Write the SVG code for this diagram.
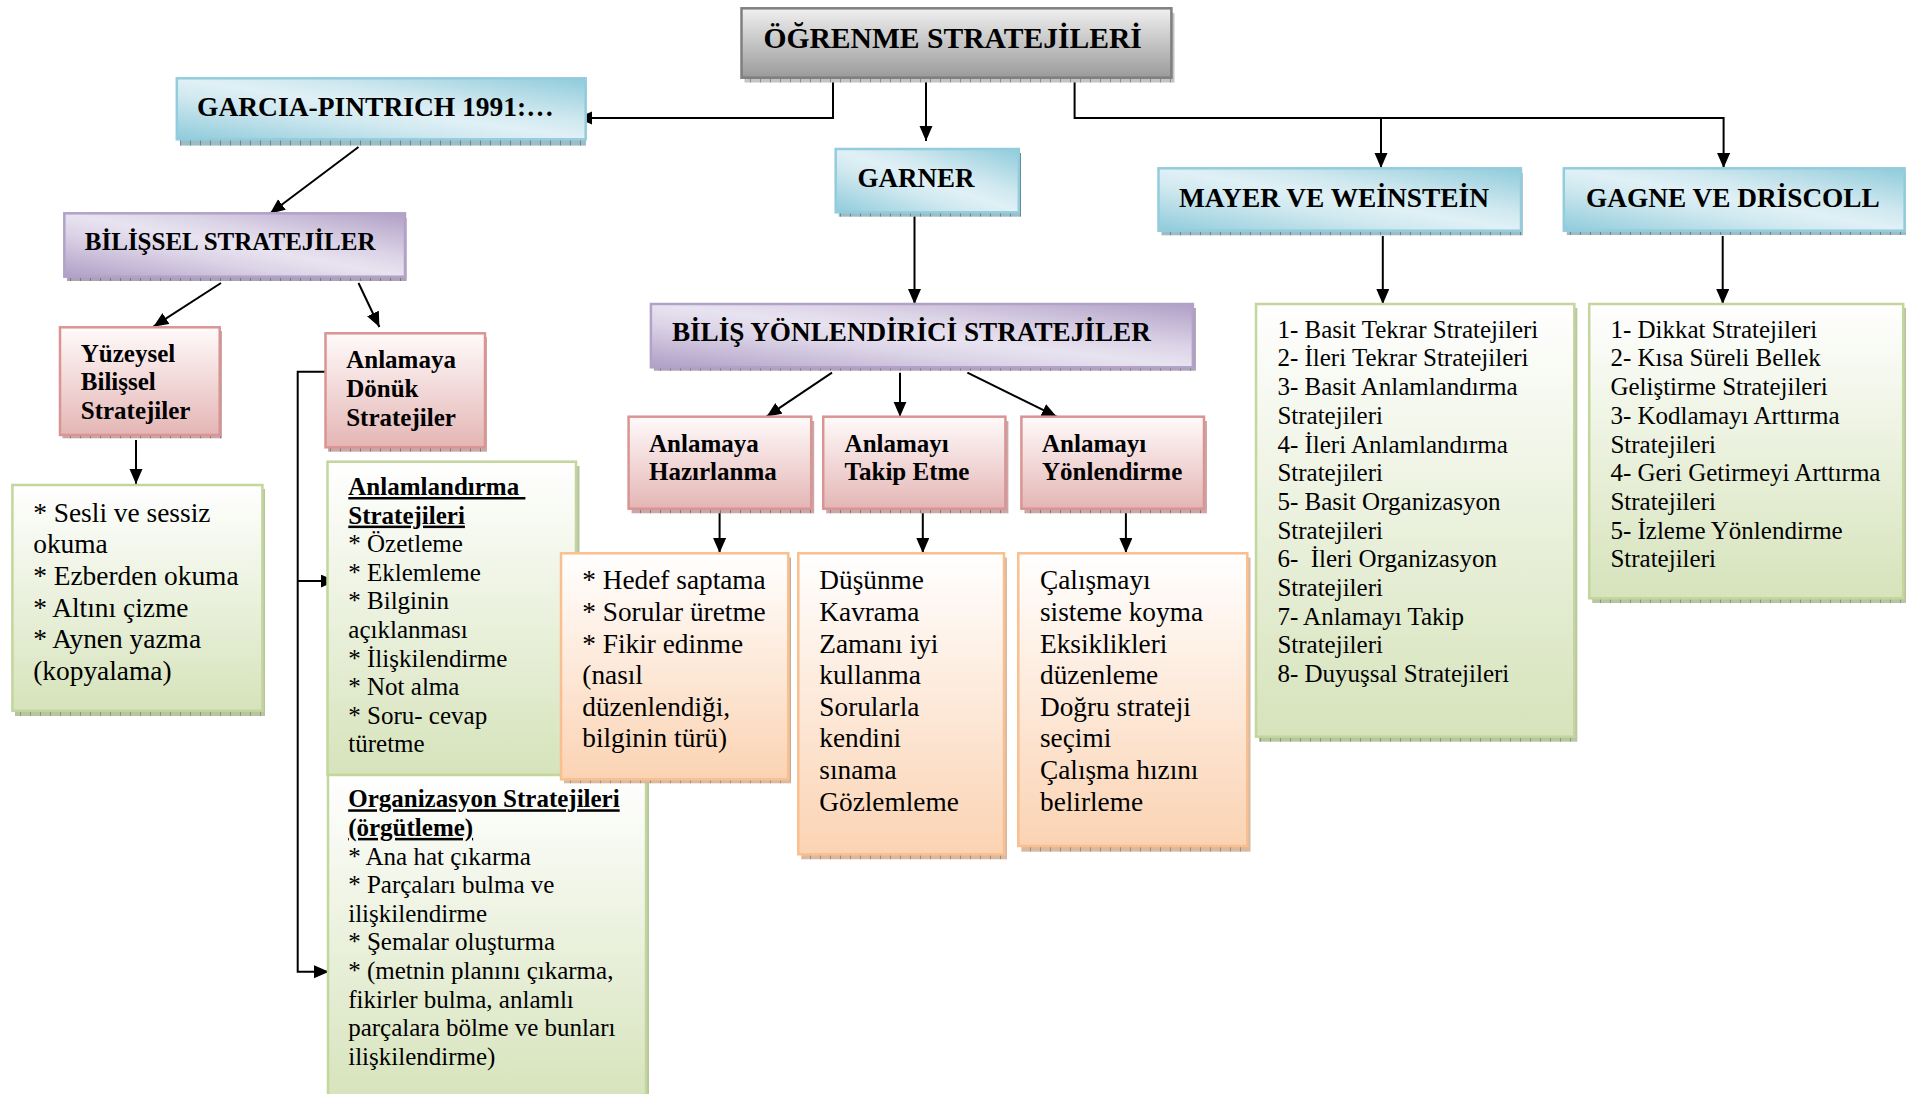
<svg xmlns="http://www.w3.org/2000/svg" width="1906" height="1094" viewBox="0 0 1906 1094">
<defs>
<style>
text{font-family:"Liberation Serif","Times New Roman",serif;fill:#000}
.b{font-weight:bold}
.u{text-decoration:underline}
.s25{font-size:25px}
.s27{font-size:27.3px}
.con{fill:none;stroke:#000;stroke-width:2}
.bd{stroke-width:2.5}
</style>
<linearGradient id="gGrey" x1="0" y1="0" x2="0" y2="1"><stop offset="0" stop-color="#f0f0f0"/><stop offset="1" stop-color="#9a9a9a"/></linearGradient>
<linearGradient id="gBlue" x1="1" y1="0" x2="0" y2="1"><stop offset="0" stop-color="#8fcbdb"/><stop offset="0.35" stop-color="#cfe8ef"/><stop offset="0.5" stop-color="#e0f1f6"/><stop offset="0.65" stop-color="#cfe8ef"/><stop offset="1" stop-color="#8fcbdb"/></linearGradient>
<linearGradient id="gPurple" x1="1" y1="0" x2="0" y2="1"><stop offset="0" stop-color="#b09fc6"/><stop offset="0.35" stop-color="#dcd4e7"/><stop offset="0.5" stop-color="#e8e3f0"/><stop offset="0.65" stop-color="#dcd4e7"/><stop offset="1" stop-color="#b09fc6"/></linearGradient>
<linearGradient id="gPink" x1="0" y1="0" x2="0" y2="1"><stop offset="0" stop-color="#fffafa"/><stop offset="1" stop-color="#e4b6b5"/></linearGradient>
<linearGradient id="gGreen" x1="0" y1="0" x2="0" y2="1"><stop offset="0" stop-color="#ffffff"/><stop offset="1" stop-color="#d6e3bb"/></linearGradient>
<linearGradient id="gOrange" x1="0" y1="0" x2="0" y2="1"><stop offset="0" stop-color="#ffffff"/><stop offset="1" stop-color="#fbd3b3"/></linearGradient>
<pattern id="hGrey" width="10" height="6" patternUnits="userSpaceOnUse"><rect width="10" height="6" fill="#c4c4c4"/><path d="M0.5,0V6" stroke="#8a8a8a"/></pattern>
<pattern id="hBlue" width="10" height="6" patternUnits="userSpaceOnUse"><rect width="10" height="6" fill="#9dbcc3"/><path d="M0.5,0V6" stroke="#5f8a94"/></pattern>
<pattern id="hPurple" width="10" height="6" patternUnits="userSpaceOnUse"><rect width="10" height="6" fill="#aca2b8"/><path d="M0.5,0V6" stroke="#7d7289"/></pattern>
<pattern id="hPink" width="10" height="6" patternUnits="userSpaceOnUse"><rect width="10" height="6" fill="#c8a8a8"/><path d="M0.5,0V6" stroke="#987171"/></pattern>
<pattern id="hGreen" width="10" height="6" patternUnits="userSpaceOnUse"><rect width="10" height="6" fill="#b8c4a2"/><path d="M0.5,0V6" stroke="#8a9874"/></pattern>
<pattern id="hOrange" width="10" height="6" patternUnits="userSpaceOnUse"><rect width="10" height="6" fill="#d8baa2"/><path d="M0.5,0V6" stroke="#a88a70"/></pattern>
<marker id="ah" markerUnits="userSpaceOnUse" markerWidth="16" markerHeight="14" refX="15" refY="6.5" orient="auto"><path d="M0,0L15,6.5L0,13z" fill="#000"/></marker>
</defs>
<rect width="1906" height="1094" fill="#fff"/>

<g id="connectors">
<path class="con" d="M833,80V118H577" marker-end="url(#ah)"/>
<path class="con" d="M926,80V141" marker-end="url(#ah)"/>
<path class="con" d="M1074.6,80V118H1723.6V168" marker-end="url(#ah)"/>
<path class="con" d="M1381,118V168" marker-end="url(#ah)"/>
<path class="con" d="M358.5,147L270,213.5" marker-end="url(#ah)"/>
<path class="con" d="M221,283L153.4,326.7" marker-end="url(#ah)"/>
<path class="con" d="M358.5,283L379.4,327" marker-end="url(#ah)"/>
<path class="con" d="M136,440V484" marker-end="url(#ah)"/>
<path class="con" d="M325.5,371.7H297.7V971.7H329" marker-end="url(#ah)"/>
<path class="con" d="M297.7,581H335.8" marker-end="url(#ah)"/>
<path class="con" d="M914.5,216V304" marker-end="url(#ah)"/>
<path class="con" d="M1382.8,236V304" marker-end="url(#ah)"/>
<path class="con" d="M1722.7,236V304" marker-end="url(#ah)"/>
<path class="con" d="M832,372.7L766.5,416.7" marker-end="url(#ah)"/>
<path class="con" d="M900,372.7V416.7" marker-end="url(#ah)"/>
<path class="con" d="M967.4,372.7L1056.7,416.7" marker-end="url(#ah)"/>
<path class="con" d="M719.6,513V553" marker-end="url(#ah)"/>
<path class="con" d="M922.8,513V553" marker-end="url(#ah)"/>
<path class="con" d="M1125.9,513V553" marker-end="url(#ah)"/>
</g>

<g id="n_ogrenme">
<rect x="744.5" y="13" width="430" height="69.5" fill="url(#hGrey)"/>
<rect class="bd" x="741.5" y="8.3" width="429.9" height="69.4" fill="url(#gGrey)" stroke="#7f7f7f"/>
<text class="b" x="763.4" y="47.7" font-size="29.6">ÖĞRENME STRATEJİLERİ</text>
</g>

<g id="n_garcia">
<rect x="180" y="83" width="406" height="62.6" fill="url(#hBlue)"/>
<rect class="bd" x="176.8" y="78.3" width="408.9" height="61" fill="url(#gBlue)" stroke="#93cddd"/>
<text class="b" x="197" y="116" font-size="27.5">GARCIA-PINTRICH 1991:…</text>
</g>

<g id="n_bilissel">
<rect x="67" y="218" width="339.7" height="63" fill="url(#hPurple)"/>
<rect class="bd" x="64.3" y="213.3" width="340.7" height="63.4" fill="url(#gPurple)" stroke="#b3a2c7"/>
<text class="b" x="84.8" y="250" font-size="25">BİLİŞSEL STRATEJİLER</text>
</g>

<g id="n_garner">
<rect x="838.7" y="153" width="182.3" height="63.7" fill="url(#hBlue)"/>
<rect class="bd" x="835.7" y="149" width="183.1" height="63.3" fill="url(#gBlue)" stroke="#93cddd"/>
<text class="b" x="857.6" y="186.7" font-size="27">GARNER</text>
</g>

<g id="n_mayer">
<rect x="1161.5" y="173" width="361.3" height="62.3" fill="url(#hBlue)"/>
<rect class="bd" x="1158.5" y="168.3" width="362.5" height="62.4" fill="url(#gBlue)" stroke="#93cddd"/>
<text class="b" x="1179" y="206.7" font-size="27.4">MAYER VE WEİNSTEİN</text>
</g>

<g id="n_gagne">
<rect x="1566.8" y="173" width="340" height="62" fill="url(#hBlue)"/>
<rect class="bd" x="1563.8" y="168.3" width="340.8" height="62.4" fill="url(#gBlue)" stroke="#93cddd"/>
<text class="b" x="1586" y="206.7" font-size="27.3">GAGNE VE DRİSCOLL</text>
</g>

<g id="n_bilis_yonlendirici">
<rect x="653.9" y="308" width="542" height="62.7" fill="url(#hPurple)"/>
<rect class="bd" x="650.9" y="304" width="542" height="63.3" fill="url(#gPurple)" stroke="#b3a2c7"/>
<text class="b" x="671.9" y="341" font-size="27.2">BİLİŞ YÖNLENDİRİCİ STRATEJİLER</text>
</g>

<g id="n_yuzeysel">
<rect x="62.5" y="331" width="159.5" height="107.3" fill="url(#hPink)"/>
<rect class="bd" x="60" y="327.3" width="159.7" height="107.7" fill="url(#gPink)" stroke="#d99594"/>
<text class="b s25"><tspan x="80.8" y="361.7">Yüzeysel</tspan><tspan x="80.8" y="390">Bilişsel</tspan><tspan x="80.8" y="419">Stratejiler</tspan></text>
</g>

<g id="n_anlamaya_donuk">
<rect x="328" y="337" width="159" height="114.7" fill="url(#hPink)"/>
<rect class="bd" x="325.5" y="333.3" width="159.5" height="114" fill="url(#gPink)" stroke="#d99594"/>
<text class="b s25"><tspan x="346.2" y="368.3">Anlamaya</tspan><tspan x="346.2" y="396.7">Dönük</tspan><tspan x="346.2" y="426">Stratejiler</tspan></text>
</g>

<g id="n_sesli">
<rect x="15" y="489" width="250" height="227" fill="url(#hGreen)"/>
<rect class="bd" x="12.4" y="485" width="250" height="225.7" fill="url(#gGreen)" stroke="#c3d69b"/>
<text font-size="27.4"><tspan x="33.2" y="521.7">* Sesli ve sessiz</tspan><tspan x="33.2" y="553.4">okuma</tspan><tspan x="33.2" y="585">* Ezberden okuma</tspan><tspan x="33.2" y="616.7">* Altını çizme</tspan><tspan x="33.2" y="648.3">* Aynen yazma</tspan><tspan x="33.2" y="680">(kopyalama)</tspan></text>
</g>

<g id="n_anlamlandirma">
<rect x="330" y="466" width="249.5" height="313" fill="url(#hGreen)"/>
<rect class="bd" x="327.5" y="461.7" width="248.5" height="313.3" fill="url(#gGreen)" stroke="#c3d69b"/>
<text class="b u s25" xml:space="preserve"><tspan x="348.3" y="495">Anlamlandırma </tspan><tspan x="348.3" y="523.6">Stratejileri</tspan></text>
<text class="s25"><tspan x="348.3" y="552.2">* Özetleme</tspan><tspan x="348.3" y="580.8">* Eklemleme</tspan><tspan x="348.3" y="609.4">* Bilginin</tspan><tspan x="348.3" y="638">açıklanması</tspan><tspan x="348.3" y="666.6">* İlişkilendirme</tspan><tspan x="348.3" y="695.2">* Not alma</tspan><tspan x="348.3" y="723.8">* Soru- cevap</tspan><tspan x="348.3" y="752.4">türetme</tspan></text>
</g>

<g id="n_organizasyon">
<rect x="331" y="779" width="318" height="330" fill="url(#hGreen)"/>
<rect class="bd" x="328" y="775" width="318" height="330" fill="url(#gGreen)" stroke="#c3d69b"/>
<text class="b u s25"><tspan x="348.2" y="807.3">Organizasyon Stratejileri</tspan><tspan x="348.2" y="835.9">(örgütleme)</tspan></text>
<text class="s25"><tspan x="348.2" y="864.5">* Ana hat çıkarma</tspan><tspan x="348.2" y="893.1">* Parçaları bulma ve</tspan><tspan x="348.2" y="921.7">ilişkilendirme</tspan><tspan x="348.2" y="950.3">* Şemalar oluşturma</tspan><tspan x="348.2" y="978.9">* (metnin planını çıkarma,</tspan><tspan x="348.2" y="1007.5">fikirler bulma, anlamlı</tspan><tspan x="348.2" y="1036.1">parçalara bölme ve bunları</tspan><tspan x="348.2" y="1064.7">ilişkilendirme)</tspan></text>
</g>

<g id="n_hazirlanma">
<rect x="631.6" y="421" width="182.6" height="92.3" fill="url(#hPink)"/>
<rect class="bd" x="628.6" y="416.7" width="182.6" height="92" fill="url(#gPink)" stroke="#d99594"/>
<text class="b s25"><tspan x="649" y="451.7">Anlamaya</tspan><tspan x="649" y="480">Hazırlanma</tspan></text>
</g>

<g id="n_takip">
<rect x="826.2" y="421" width="182.2" height="92.3" fill="url(#hPink)"/>
<rect class="bd" x="823.2" y="416.7" width="182.2" height="92" fill="url(#gPink)" stroke="#d99594"/>
<text class="b s25"><tspan x="844.6" y="451.7">Anlamayı</tspan><tspan x="844.6" y="480">Takip Etme</tspan></text>
</g>

<g id="n_yonlendirme">
<rect x="1024.4" y="421" width="182.6" height="92.3" fill="url(#hPink)"/>
<rect class="bd" x="1021.4" y="416.7" width="182.6" height="92" fill="url(#gPink)" stroke="#d99594"/>
<text class="b s25"><tspan x="1042" y="451.7">Anlamayı</tspan><tspan x="1042" y="480">Yönlendirme</tspan></text>
</g>

<g id="n_hedef">
<rect x="564" y="557.5" width="226.7" height="225.8" fill="url(#hOrange)"/>
<rect class="bd" x="561" y="553.3" width="227.3" height="226" fill="url(#gOrange)" stroke="#fabf8f"/>
<text class="s27"><tspan x="582.3" y="589.3">* Hedef saptama</tspan><tspan x="582.3" y="620.9">* Sorular üretme</tspan><tspan x="582.3" y="652.5">* Fikir edinme</tspan><tspan x="582.3" y="684.1">(nasıl</tspan><tspan x="582.3" y="715.7">düzenlendiği,</tspan><tspan x="582.3" y="747.3">bilginin türü)</tspan></text>
</g>

<g id="n_dusunme">
<rect x="801.3" y="557.5" width="205.7" height="301.8" fill="url(#hOrange)"/>
<rect class="bd" x="798.3" y="553.3" width="205.7" height="301" fill="url(#gOrange)" stroke="#fabf8f"/>
<text class="s27"><tspan x="819.3" y="589.3">Düşünme</tspan><tspan x="819.3" y="620.9">Kavrama</tspan><tspan x="819.3" y="652.5">Zamanı iyi</tspan><tspan x="819.3" y="684.1">kullanma</tspan><tspan x="819.3" y="715.7">Sorularla</tspan><tspan x="819.3" y="747.3">kendini</tspan><tspan x="819.3" y="778.9">sınama</tspan><tspan x="819.3" y="810.5">Gözlemleme</tspan></text>
</g>

<g id="n_calisma">
<rect x="1021.3" y="557.5" width="229" height="294.2" fill="url(#hOrange)"/>
<rect class="bd" x="1018.3" y="553.3" width="229" height="292.7" fill="url(#gOrange)" stroke="#fabf8f"/>
<text class="s27"><tspan x="1040" y="589.3">Çalışmayı</tspan><tspan x="1040" y="620.9">sisteme koyma</tspan><tspan x="1040" y="652.5">Eksiklikleri</tspan><tspan x="1040" y="684.1">düzenleme</tspan><tspan x="1040" y="715.7">Doğru strateji</tspan><tspan x="1040" y="747.3">seçimi</tspan><tspan x="1040" y="778.9">Çalışma hızını</tspan><tspan x="1040" y="810.5">belirleme</tspan></text>
</g>

<g id="n_mayer_list">
<rect x="1259" y="308" width="318.3" height="433.7" fill="url(#hGreen)"/>
<rect class="bd" x="1256" y="304" width="318.3" height="432.7" fill="url(#gGreen)" stroke="#c3d69b"/>
<text class="s25" xml:space="preserve"><tspan x="1277.4" y="337.7">1- Basit Tekrar Stratejileri</tspan><tspan x="1277.4" y="366.4">2- İleri Tekrar Stratejileri</tspan><tspan x="1277.4" y="395.1">3- Basit Anlamlandırma</tspan><tspan x="1277.4" y="423.8">Stratejileri</tspan><tspan x="1277.4" y="452.5">4- İleri Anlamlandırma</tspan><tspan x="1277.4" y="481.2">Stratejileri</tspan><tspan x="1277.4" y="509.9">5- Basit Organizasyon</tspan><tspan x="1277.4" y="538.6">Stratejileri</tspan><tspan x="1277.4" y="567.3">6-  İleri Organizasyon</tspan><tspan x="1277.4" y="596">Stratejileri</tspan><tspan x="1277.4" y="624.7">7- Anlamayı Takip</tspan><tspan x="1277.4" y="653.4">Stratejileri</tspan><tspan x="1277.4" y="682.1">8- Duyuşsal Stratejileri</tspan></text>
</g>

<g id="n_gagne_list">
<rect x="1592.2" y="308" width="314" height="295" fill="url(#hGreen)"/>
<rect class="bd" x="1589.2" y="304" width="314" height="294.3" fill="url(#gGreen)" stroke="#c3d69b"/>
<text class="s25"><tspan x="1610.4" y="337.7">1- Dikkat Stratejileri</tspan><tspan x="1610.4" y="366.4">2- Kısa Süreli Bellek</tspan><tspan x="1610.4" y="395.1">Geliştirme Stratejileri</tspan><tspan x="1610.4" y="423.8">3- Kodlamayı Arttırma</tspan><tspan x="1610.4" y="452.5">Stratejileri</tspan><tspan x="1610.4" y="481.2">4- Geri Getirmeyi Arttırma</tspan><tspan x="1610.4" y="509.9">Stratejileri</tspan><tspan x="1610.4" y="538.6">5- İzleme Yönlendirme</tspan><tspan x="1610.4" y="567.3">Stratejileri</tspan></text>
</g>
</svg>
